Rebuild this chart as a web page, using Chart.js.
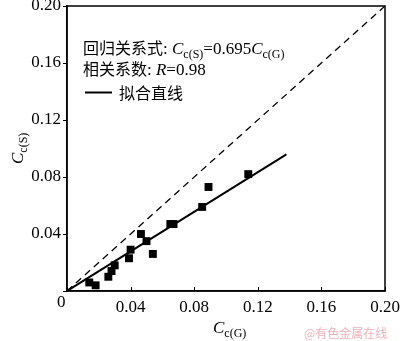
<!DOCTYPE html>
<html>
<head>
<meta charset="utf-8">
<script src="https://cdn.jsdelivr.net/npm/chart.js@4"></script>
<style>
  html, body { margin: 0; padding: 0; background: #fff; }
  #wrap { width: 400px; height: 341px; }
</style>
</head>
<body>
<div id="wrap"><canvas id="c" width="400" height="341"></canvas></div>
<script>
// Measured pairs: C_c(G) on x, C_c(S) on y
const ccG = [0.014, 0.018, 0.026, 0.028, 0.030, 0.039, 0.040, 0.0465, 0.050, 0.054, 0.065, 0.067, 0.085, 0.089, 0.114];
const ccS = [0.006, 0.004, 0.010, 0.014, 0.018, 0.023, 0.029, 0.040, 0.035, 0.026, 0.047, 0.047, 0.059, 0.073, 0.082];
// Regression through the origin
const slope = [0.695];
const fitRange = [0, 0.138];
const R = [0.98];
// Axis ticks
const tickValues = [0, 0.04, 0.08, 0.12, 0.16, 0.20];

const SERIF = "'Liberation Serif', 'Times New Roman', serif";
const CJK = "'Noto Sans CJK SC', 'Noto Sans CJK JP', sans-serif";

const points = ccG.map((x, i) => ({ x: x, y: ccS[i] }));
const fitLine = fitRange.map(x => ({ x: x, y: slope[0] * x }));
const diagonal = [{ x: 0, y: 0 }, { x: 0.2, y: 0.2 }];

function runs(ctx, x, y, parts) {
  let cx = x;
  for (const p of parts) {
    ctx.font = p.font;
    ctx.fillText(p.t, cx, y + (p.dy || 0));
    cx += ctx.measureText(p.t).width;
  }
  return cx;
}

const decor = {
  id: 'decor',
  afterDraw(chart) {
    const ctx = chart.ctx;
    const a = chart.chartArea;
    const xs = chart.scales.x;
    ctx.save();
    ctx.strokeStyle = '#000';
    ctx.fillStyle = '#000';
    // frame
    ctx.lineWidth = 1.5;
    ctx.strokeRect(a.left, a.top, a.right - a.left, a.bottom - a.top);
    // inward x ticks
    ctx.lineWidth = 1;
    for (const v of tickValues) {
      const px = Math.round(xs.getPixelForValue(v)) + 0.5;
      ctx.beginPath();
      ctx.moveTo(px, a.bottom);
      ctx.lineTo(px, a.bottom - 4);
      ctx.stroke();
    }
    // shared origin label
    ctx.textBaseline = 'alphabetic';
    ctx.textAlign = 'left';
    ctx.font = '17px ' + SERIF;
    ctx.fillText('0', a.left - 10, a.bottom + 16);

    const main = '17px ' + SERIF;
    const ital = 'italic 17px ' + SERIF;
    const sub = '12px ' + SERIF;
    const han = '16px ' + CJK;

    runs(ctx, 83, 54, [
      { t: '回归关系式', font: han },
      { t: ': ', font: main },
      { t: 'C', font: ital },
      { t: 'c(S)', font: sub, dy: 4 },
      { t: '=' + slope[0].toFixed(3), font: main },
      { t: 'C', font: ital },
      { t: 'c(G)', font: sub, dy: 4 }
    ]);
    runs(ctx, 83, 75, [
      { t: '相关系数', font: han },
      { t: ': ', font: main },
      { t: 'R', font: ital },
      { t: '=' + R[0].toFixed(2), font: main }
    ]);
    ctx.lineWidth = 2;
    ctx.beginPath();
    ctx.moveTo(85, 92.5);
    ctx.lineTo(112, 92.5);
    ctx.stroke();
    runs(ctx, 119, 99, [{ t: '拟合直线', font: han }]);

    // x axis title
    runs(ctx, 213, 333, [
      { t: 'C', font: ital },
      { t: 'c(G)', font: sub, dy: 4 }
    ]);
    // y axis title
    ctx.save();
    ctx.translate(23, 164);
    ctx.rotate(-Math.PI / 2);
    runs(ctx, 0, 0, [
      { t: 'C', font: ital },
      { t: 'c(S)', font: sub, dy: 4 }
    ]);
    ctx.restore();

    // site mark
    ctx.fillStyle = 'rgba(232, 150, 160, 0.75)';
    ctx.font = '12px ' + CJK;
    ctx.fillText('@有色金属在线', 304, 338);
    ctx.restore();
  }
};

function fixBox(w, h) {
  return function (scale) {
    if (w !== null) scale.width = w;
    if (h !== null) scale.height = h;
    scale.paddingTop = 0; scale.paddingBottom = 0;
    scale.paddingLeft = 0; scale.paddingRight = 0;
  };
}

new Chart(document.getElementById('c'), {
  type: 'scatter',
  data: {
    datasets: [
      {
        data: diagonal, showLine: true, borderColor: '#000', borderWidth: 1.3,
        borderDash: [7, 5], pointRadius: 0, fill: false
      },
      {
        data: fitLine, showLine: true, borderColor: '#000', borderWidth: 2,
        pointRadius: 0, fill: false
      },
      {
        data: points, pointStyle: 'rect', pointRadius: 5.6,
        backgroundColor: '#000', borderColor: '#000', borderWidth: 0
      }
    ]
  },
  options: {
    responsive: false,
    animation: false,
    devicePixelRatio: 1,
    layout: { padding: { left: 0, top: 6, right: 15, bottom: 0 } },
    plugins: { legend: { display: false }, tooltip: { enabled: false } },
    scales: {
      x: {
        type: 'linear', min: 0, max: 0.2,
        afterFit: fixBox(null, 50),
        afterBuildTicks(s) { s.ticks = tickValues.map(v => ({ value: v })); },
        grid: { display: false, drawTicks: false },
        border: { display: true, color: '#000', width: 1.5 },
        ticks: {
          padding: 6, color: '#000', maxRotation: 0,
          font: { family: SERIF, size: 17 },
          callback: v => (v === 0 ? '' : v.toFixed(2))
        }
      },
      y: {
        type: 'linear', min: 0, max: 0.2,
        afterFit: fixBox(67, null),
        afterBuildTicks(s) { s.ticks = tickValues.map(v => ({ value: v })); },
        grid: { drawOnChartArea: false, drawTicks: true, tickLength: 4, color: '#000', lineWidth: 1 },
        border: { display: true, color: '#000', width: 1.5 },
        ticks: {
          padding: 2, color: '#000',
          font: { family: SERIF, size: 17 },
          callback: v => (v === 0 ? '' : v.toFixed(2))
        }
      }
    }
  },
  plugins: [decor]
});
</script>
</body>
</html>
